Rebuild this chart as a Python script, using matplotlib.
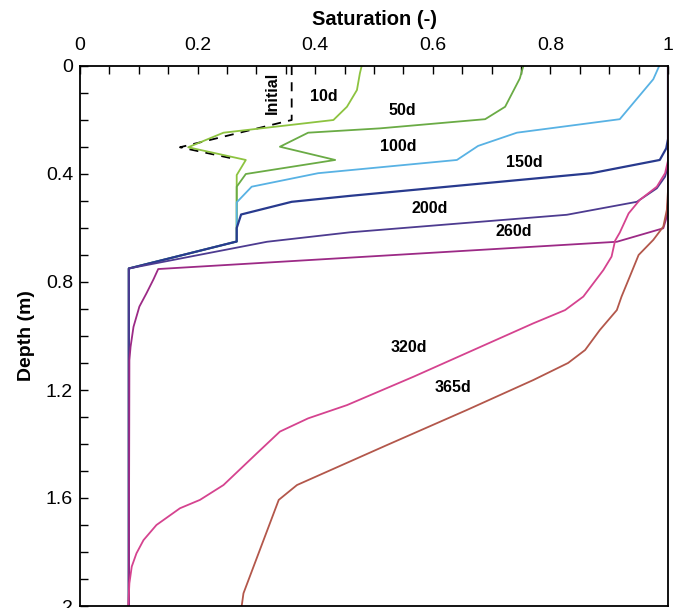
import matplotlib
matplotlib.use("Agg")
import matplotlib.pyplot as plt
from matplotlib.ticker import MultipleLocator

plt.rcParams['font.family'] = ['Liberation Sans', 'DejaVu Sans']

# Saturation profiles (x) against depth (y) for each elapsed time
init_s = [0.36, 0.36, 0.17, 0.267]
init_d = [0.0, 0.2, 0.301, 0.346]

d10_s = [0.479, 0.476, 0.471, 0.454, 0.431, 0.244, 0.184, 0.282, 0.2665, 0.2665, 0.083, 0.083]
d10_d = [0.0, 0.027, 0.089, 0.151, 0.2, 0.247, 0.301, 0.348, 0.404, 0.65, 0.75, 2.0]

d50_s = [0.754, 0.748, 0.723, 0.689, 0.510, 0.388, 0.340, 0.434, 0.282, 0.2665, 0.2665, 0.083, 0.083]
d50_d = [0.0, 0.046, 0.151, 0.197, 0.231, 0.247, 0.299, 0.348, 0.400, 0.447, 0.65, 0.75, 2.0]

d100_s = [0.985, 0.975, 0.918, 0.743, 0.677, 0.641, 0.405, 0.292, 0.2665, 0.2665, 0.083, 0.083]
d100_d = [0.0, 0.049, 0.197, 0.247, 0.296, 0.348, 0.397, 0.447, 0.505, 0.65, 0.75, 2.0]

d150_s = [1.0, 1.0, 0.997, 0.986, 0.870, 0.459, 0.360, 0.274, 0.2665, 0.2665, 0.083, 0.083]
d150_d = [0.0, 0.27, 0.305, 0.348, 0.397, 0.481, 0.503, 0.550, 0.600, 0.65, 0.75, 2.0]

d200_s = [1.0, 1.0, 0.995, 0.981, 0.947, 0.828, 0.544, 0.459, 0.318, 0.083, 0.083]
d200_d = [0.0, 0.37, 0.41, 0.453, 0.503, 0.551, 0.601, 0.616, 0.651, 0.75, 2.0]

d260_s = [1.0, 1.0, 0.998, 0.992, 0.913, 0.133, 0.125, 0.113, 0.101, 0.091, 0.086, 0.084, 0.083]
d260_d = [0.0, 0.50, 0.558, 0.601, 0.651, 0.752, 0.79, 0.842, 0.891, 0.966, 1.04, 1.089, 2.0]

d320_s = [1.0, 1.0, 0.995, 0.981, 0.952, 0.933, 0.918, 0.910, 0.904, 0.890, 0.856, 0.825,
          0.771, 0.669, 0.567, 0.454, 0.388, 0.340, 0.301, 0.244, 0.204, 0.170, 0.130,
          0.108, 0.096, 0.088, 0.084, 0.082]
d320_d = [0.0, 0.35, 0.397, 0.447, 0.496, 0.546, 0.617, 0.647, 0.706, 0.756, 0.854, 0.904,
          0.953, 1.052, 1.151, 1.256, 1.305, 1.354, 1.434, 1.552, 1.607, 1.638, 1.70,
          1.756, 1.805, 1.854, 1.916, 2.0]

d365_s = [1.0, 1.0, 0.998, 0.992, 0.975, 0.950, 0.935, 0.921, 0.913, 0.884, 0.859, 0.830,
          0.771, 0.658, 0.522, 0.369, 0.338, 0.278, 0.275]
d365_d = [0.0, 0.46, 0.533, 0.595, 0.644, 0.700, 0.780, 0.854, 0.904, 0.978, 1.052, 1.100,
          1.163, 1.274, 1.404, 1.552, 1.607, 1.953, 2.0]

labels = ["Initial", "10d", "50d", "100d", "150d", "200d", "260d", "320d", "365d"]
label_s = [0.327, 0.414, 0.549, 0.541, 0.755, 0.594, 0.738, 0.559, 0.634]
label_d = [0.098, 0.114, 0.163, 0.299, 0.358, 0.527, 0.614, 1.042, 1.190]

colors = {
    "10d": "#8dc340",
    "50d": "#6aab45",
    "100d": "#58b2e4",
    "150d": "#283a8e",
    "200d": "#4d3b90",
    "260d": "#9c2a86",
    "320d": "#d5438f",
    "365d": "#b3574b",
}

fig = plt.figure(figsize=(6.73, 6.08), dpi=100)
ax = fig.add_axes([80 / 673, 2 / 608, 588 / 673, 540 / 608])

ax.plot(init_s, init_d, color="black", lw=1.3, linestyle=(0, (5, 4)), zorder=2)
curves = [("10d", d10_s, d10_d), ("50d", d50_s, d50_d), ("100d", d100_s, d100_d),
          ("150d", d150_s, d150_d), ("200d", d200_s, d200_d), ("260d", d260_s, d260_d)]
for i, (name, s, d) in enumerate(curves):
    lw = 1.6 if name == "150d" else 1.3
    ax.plot(s, d, color=colors[name], lw=lw, zorder=2 + 0.01 * i)
ax.plot(d365_s, d365_d, color=colors["365d"], lw=1.3, zorder=2.1)
ax.plot(d320_s, d320_d, color=colors["320d"], lw=1.3, zorder=2.2)

for txt, s, d in zip(labels, label_s, label_d):
    rot = 90 if txt == "Initial" else 0
    ax.text(s, d, txt, ha="center", va="center", fontsize=11.5, fontweight="bold",
            rotation=rot, zorder=3)

ax.set_xlim(0, 1)
ax.set_ylim(2, 0)
ax.xaxis.set_major_locator(MultipleLocator(0.2))
ax.xaxis.set_minor_locator(MultipleLocator(0.05))
ax.yaxis.set_major_locator(MultipleLocator(0.4))
ax.yaxis.set_minor_locator(MultipleLocator(0.1))
ax.xaxis.set_major_formatter(plt.FuncFormatter(lambda v, p: f"{v:g}"))
ax.yaxis.set_major_formatter(plt.FuncFormatter(lambda v, p: f"{v:g}"))
ax.xaxis.tick_top()
ax.xaxis.set_label_position("top")
ax.tick_params(which="both", direction="in", length=6, width=1.0,
               top=True, bottom=False, left=True, right=False, labelsize=14)
ax.tick_params(axis="x", pad=9)
ax.tick_params(axis="y", pad=5)
for sp in ax.spines.values():
    sp.set_linewidth(1.3)

ax.set_xlabel("Saturation (-)", fontsize=14.5, fontweight="bold", labelpad=8)
ax.set_ylabel("Depth (m)", fontsize=14, fontweight="bold", labelpad=8)

fig.savefig("out.png", dpi=100)
